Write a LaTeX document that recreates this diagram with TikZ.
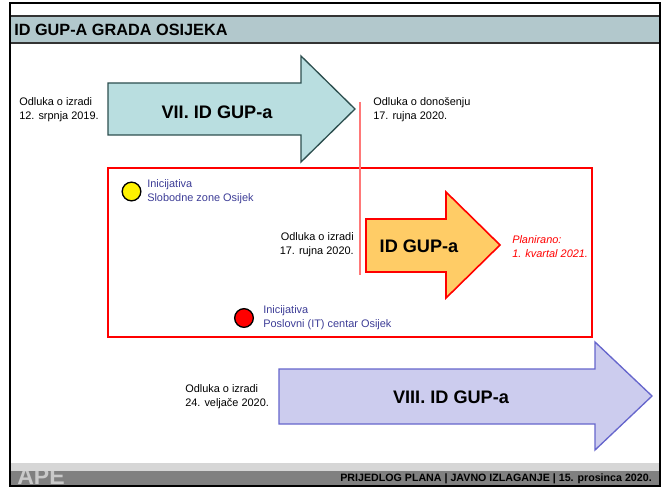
\documentclass[tikz,border=0pt]{standalone}
\usepackage{fontspec}
\setmainfont{Liberation Sans}
\usepackage{xcolor}
\definecolor{titlebar}{HTML}{B2C8CC}
\definecolor{tealfill}{HTML}{B9DEE0}
\definecolor{tealline}{HTML}{2D4F4F}
\definecolor{orangefill}{HTML}{FFCC66}
\definecolor{lilacfill}{HTML}{CCCCEE}
\definecolor{lilacline}{HTML}{6666CC}
\definecolor{inicblue}{HTML}{3C3C96}
\definecolor{cutline}{HTML}{FF7878}

\begin{document}
\begin{tikzpicture}[x=0.75pt,y=-0.75pt,
					note/.style={inner sep=0pt, align=left, font=\fontsize{8.2}{10.4}\selectfont},
					inic/.style={note, text=inicblue},
					arrowtext/.style={inner sep=0pt, font=\fontsize{13.6}{16}\selectfont\bfseries},
					initdot/.style={circle, draw=black, line width=1pt, inner sep=0pt, minimum size=14pt}]
    \useasboundingbox (0,0) rectangle (666,488);
    % Frame, title and footer
    \fill[titlebar] (10,16) rectangle (661,43);
    \draw[line width=1pt, black!80] (10,16) -- (661,16) (10,43) -- (661,43);
    \node[anchor=west, inner sep=0pt, font=\fontsize{12.2}{14}\selectfont\bfseries] (title) at (14,30) {ID GUP-A GRADA OSIJEKA};
    \fill[black!50] (10,471) rectangle (660,486);
    \node[anchor=base west, inner sep=0pt, text=black!21, font=\fontsize{17.3}{20}\selectfont\bfseries] (logo) at (17,484) {APE};
    \fill[black!16] (10,463) rectangle (660,471);
    \node[anchor=east, inner sep=0pt, font=\fontsize{8}{10}\selectfont\bfseries] (footer) at (652,479) {PRIJEDLOG PLANA | JAVNO IZLAGANJE | 15. prosinca 2020.};
    \draw[line width=1.5pt] (10,3) rectangle (660,486);
    % Draw arrows
    \draw[fill=tealfill, draw=tealline, line width=1pt] (108,83) -- (301,83) -- (301,56) -- (355,109) -- (301,162) -- (301,135) -- (108,135) -- cycle;
    \draw[fill=orangefill, draw=red, line width=1.2pt] (366,219) -- (446,219) -- (446,192) -- (500,245) -- (446,298) -- (446,272) -- (366,272) -- cycle;
    \draw[fill=lilacfill, draw=lilacline, line width=1pt] (279,369) -- (595,369) -- (595,342) -- (652,396) -- (595,450) -- (595,424) -- (279,424) -- cycle;
    % Place nodes
    \node[arrowtext] (A) at (217,112) {VII. ID GUP-a};
    \node[arrowtext] (B) at (419,246) {ID GUP-a};
    \node[arrowtext] (C) at (451,397) {VIII. ID GUP-a};
    \node[note, anchor=west] (A1) at (19,110) {Odluka o izradi\\12. srpnja 2019.};
    \node[note, anchor=west] (A2) at (373,110) {Odluka o donošenju\\17. rujna 2020.};
    \node[note, anchor=east, align=right] (B1) at (354,245) {Odluka o izradi\\17. rujna 2020.};
    \node[note, anchor=west, text=red, font=\fontsize{8.2}{10.4}\selectfont\itshape] (B2) at (512,247) {Planirano:\\1. kvartal 2021.};
    \node[note, anchor=west] (C1) at (185,397) {Odluka o izradi\\24. veljače 2020.};
    \node[initdot, fill=yellow] (Y) at (131.5,191.5) {};
    \node[inic, anchor=west] (Y1) at (147,192) {Inicijativa\\Slobodne zone Osijek};
    \node[initdot, fill=red] (R) at (244,318) {};
    \node[inic, anchor=west] (R1) at (263,318) {Inicijativa\\Poslovni (IT) centar Osijek};
    % Draw boxes and lines
    \draw[red, line width=1.2pt] (108,168) rectangle (592,337);
    \draw[cutline, line width=1pt] (360,102) -- (360,275);
\end{tikzpicture}
\end{document}
